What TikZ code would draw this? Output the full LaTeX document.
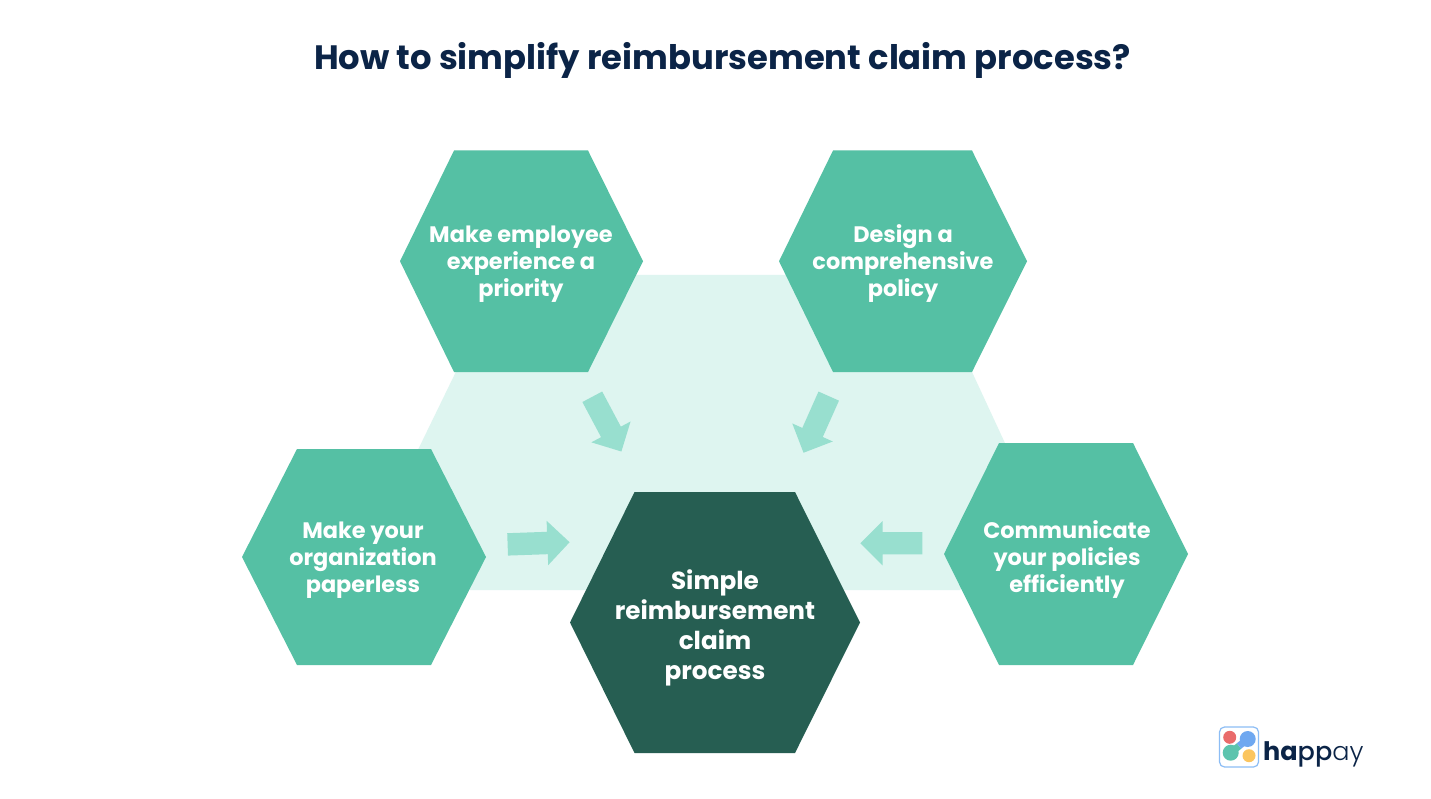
\documentclass[tikz,border=0pt]{standalone}
\usepackage{fontspec}
\usepackage{xcolor}
\setmainfont{Poppins}
\newfontfamily\logolight{Poppins Light}
\newfontfamily\logomedium{Poppins Medium}
\usetikzlibrary{shapes.arrows}
\definecolor{hexgreen}{HTML}{55C0A4}
\definecolor{hexdark}{HTML}{265E52}
\definecolor{hexpale}{HTML}{DEF5F0}
\definecolor{arrowgreen}{HTML}{98DFCF}
\definecolor{titlenavy}{HTML}{0B2447}
\definecolor{logored}{HTML}{E96B6B}
\definecolor{logoblue}{HTML}{6FA8F0}
\definecolor{logogreen}{HTML}{5CC4AE}
\definecolor{logoyellow}{HTML}{FBC55F}
\definecolor{logoframe}{HTML}{8CBDF5}
% one six-sided block: x left, x in left, x in right, x right, y top, y bottom
\newcommand*{\hexblock}[7]{\fill[#1] (#2,{(#6+#7)/2}) -- (#3,#6) -- (#4,#6) -- (#5,{(#6+#7)/2}) -- (#4,#7) -- (#3,#7) -- cycle;}
\begin{document}
\begin{tikzpicture}[x=1pt,y=-1pt,
	label/.style={font=\bfseries\fontsize{22.4}{27}\selectfont,text=white,align=center,inner sep=0pt},
	biglabel/.style={font=\bfseries\fontsize{24.7}{30}\selectfont,text=white,align=center,inner sep=0pt},
	blockarrow/.style={single arrow,fill=arrowgreen,inner xsep=0pt,inner ysep=11pt,minimum height=62pt,single arrow head extend=11pt,single arrow tip angle=90}]
	\useasboundingbox (0,0) rectangle (1431,799);
	\fill[white] (0,0) rectangle (1431,799);
	\node[font=\bfseries\fontsize{33.8}{40}\selectfont,text=titlenavy,inner sep=0pt] (title) at (722.5,60) {How to simplify reimbursement claim process?};
	% pale backdrop
	\fill[hexpale] (503,275) -- (927,275) -- (1030,497) -- (960,590) -- (470,590) -- (395,497) -- cycle;
	% outer blocks
	\hexblock{hexgreen}{400}{454}{588}{643}{150.5}{372}
	\hexblock{hexgreen}{779}{833}{972}{1027}{150.5}{372}
	\hexblock{hexgreen}{242}{297}{431}{486}{449}{665}
	\hexblock{hexgreen}{944}{999}{1133}{1188}{443}{665}
	\hexblock{hexdark}{570}{634.5}{795}{860}{492}{753}
	\node[label] (employee) at (521,264) {Make employee\\experience a\\priority};
	\node[label] (policy) at (903,264) {Design a\\comprehensive\\policy};
	\node[label] (paperless) at (363,560) {Make your\\organization\\paperless};
	\node[label] (communicate) at (1067,559.5) {Communicate\\your policies\\efficiently};
	\node[biglabel] (simple) at (715,627.5) {Simple\\reimbursement\\claim\\process};
	% arrows towards the middle
	\node[blockarrow,rotate=-62] (arrowone) at (604.2,419.2) {};
	\node[blockarrow,rotate=-114] (arrowtwo) at (818.4,419.3) {};
	\node[blockarrow,rotate=2] (arrowthree) at (533,543.5) {};
	\node[blockarrow,rotate=180] (arrowfour) at (897,543.2) {};
	% logo
	\draw[draw=logoframe,line width=1.2pt,fill=white,rounded corners=5pt] (1219.5,727) rectangle (1258.5,767);
	\fill[logogreen] (1230.7,752.7) circle[radius=8];
	\fill[logoblue] (1247.7,739) circle[radius=8];
	\draw[line width=7pt,logogreen] (1230.7,752.7) -- (1239,746);
	\draw[line width=7pt,logoblue] (1239,746) -- (1247.7,739);
	\fill[logored] (1229.7,737.3) circle[radius=6.5];
	\fill[logoyellow] (1249,755.7) circle[radius=6.5];
	\node[anchor=base west,inner sep=0pt,text=titlenavy,font=\fontsize{25.5}{30}\selectfont] (logo) at (1263,760) {\textbf{ha}{\logomedium pp}{\logolight ay}};
\end{tikzpicture}
\end{document}
